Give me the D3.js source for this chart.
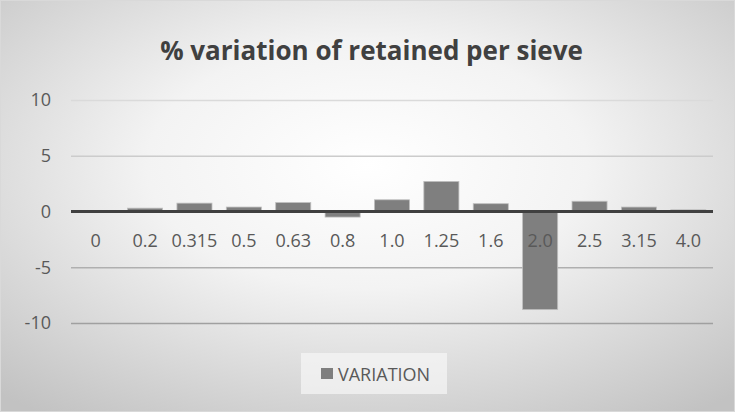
<!DOCTYPE html>
<html>
<head>
<meta charset="utf-8">
<script src="https://cdn.jsdelivr.net/npm/d3@7.9.0/dist/d3.min.js"></script>
<style>
  html, body { margin: 0; padding: 0; background: #fff; }
  svg { display: block; }
  svg text { font-family: "Open Sans", "Noto Sans", sans-serif; }
</style>
</head>
<body>
<svg id="chart" width="735" height="412"></svg>
<script>
// sieve sizes (categories) and % variation per sieve
const sieves = ["0", "0.2", "0.315", "0.5", "0.63", "0.8", "1.0", "1.25", "1.6", "2.0", "2.5", "3.15", "4.0"];
const variation = [0, 0.3, 0.75, 0.4, 0.8, -0.5, 1.05, 2.7, 0.7, -8.8, 0.92, 0.4, 0.15];
const yTicks = [-10, -5, 0, 5, 10];

const width = 735, height = 412;
const margin = { top: 100, right: 22, bottom: 89, left: 71 };
const svg = d3.select("#chart");

// background, Excel-like radial gradient
const defs = svg.append("defs");
const grad = defs.append("radialGradient")
    .attr("id", "bg")
    .attr("cx", "50%").attr("cy", "40%").attr("r", "75%");
grad.append("stop").attr("offset", "0%").attr("stop-color", "#ffffff");
grad.append("stop").attr("offset", "40%").attr("stop-color", "#f3f3f3");
grad.append("stop").attr("offset", "100%").attr("stop-color", "#c2c2c2");

svg.append("rect")
    .attr("x", 0.5).attr("y", 0.5)
    .attr("width", width - 1).attr("height", height - 1)
    .attr("fill", "url(#bg)")
    .attr("stroke", "#d9d9d9");

const x = d3.scaleBand()
    .domain(sieves)
    .range([margin.left, width - margin.right])
    .paddingInner(0.29)
    .paddingOuter(0.145);

const y = d3.scaleLinear()
    .domain([-10, 10])
    .range([height - margin.bottom, margin.top]);

// gridlines get darker toward the bottom, like the original
const gridShade = d3.scaleLinear().domain([10, -10]).range(["#dadada", "#a0a0a0"]);

// gridlines + y labels
const yAxis = svg.append("g")
    .attr("transform", `translate(${margin.left},0)`)
    .call(d3.axisLeft(y).tickValues(yTicks).tickFormat(d => String(d))
        .tickSize(-(width - margin.left - margin.right)).tickPadding(20));
yAxis.attr("font-family", null).attr("font-size", null);
yAxis.select(".domain").remove();
yAxis.selectAll(".tick line")
    .attr("stroke", d => gridShade(d))
    .attr("stroke-width", 1.3);
yAxis.selectAll(".tick text")
    .attr("fill", "#595959")
    .style("font-size", "18px");

// bars
svg.append("g")
    .selectAll("rect")
    .data(variation)
    .join("rect")
    .attr("x", (d, i) => x(sieves[i]))
    .attr("y", d => y(Math.max(0, d)))
    .attr("width", x.bandwidth())
    .attr("height", d => Math.abs(y(d) - y(0)))
    .attr("fill", "#7f7f7f")
    .attr("stroke", "#bfbfbf")
    .attr("stroke-width", 0.8);

// zero axis line
svg.append("line")
    .attr("x1", margin.left).attr("x2", width - margin.right)
    .attr("y1", y(0)).attr("y2", y(0))
    .attr("stroke", "#404040")
    .attr("stroke-width", 3);

// category labels just below zero line
const xAxis = svg.append("g")
    .attr("transform", `translate(0,${y(0)})`)
    .call(d3.axisBottom(x).tickSize(0).tickPadding(23));
xAxis.attr("font-family", null).attr("font-size", null);
xAxis.select(".domain").remove();
xAxis.selectAll(".tick text")
    .attr("fill", "#595959")
    .style("font-size", "18px");

// title
svg.append("text")
    .attr("x", width / 2 + 4)
    .attr("y", 60)
    .attr("text-anchor", "middle")
    .attr("fill", "#404040")
    .style("font-size", "26px")
    .style("font-weight", "bold")
    .text("% variation of retained per sieve");

// legend
const legend = svg.append("g").attr("transform", "translate(301,353)");
legend.append("rect")
    .attr("width", 146).attr("height", 41)
    .attr("fill", "#f7f7f7").attr("opacity", 0.7);
legend.append("rect")
    .attr("x", 20).attr("y", 15)
    .attr("width", 12).attr("height", 11)
    .attr("fill", "#7f7f7f");
legend.append("text")
    .attr("x", 37).attr("y", 28)
    .attr("fill", "#595959")
    .style("font-size", "18px")
    .text("VARIATION");
</script>
</body>
</html>
